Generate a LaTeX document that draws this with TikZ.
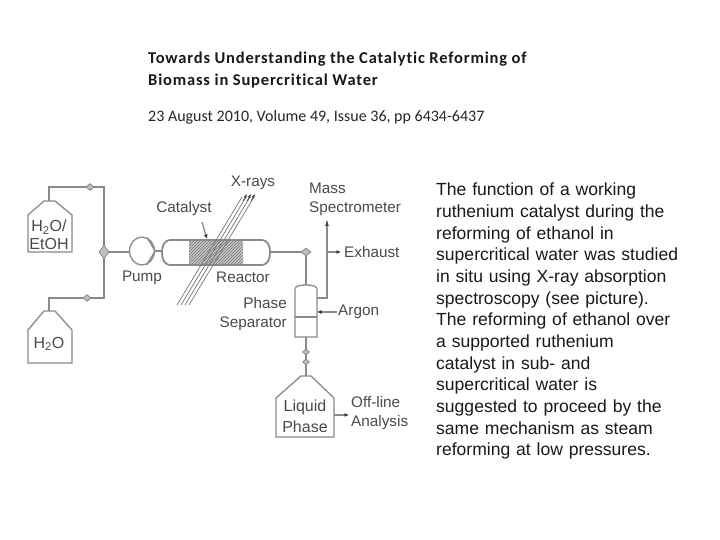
\documentclass[tikz,border=0pt]{standalone}
\usepackage{fontspec}
\setmainfont{Liberation Sans}
\newfontfamily\titlefont{Carlito}
\newfontfamily\titlebf[LetterSpace=5,Ligatures=NoCommon]{Carlito}
\usetikzlibrary{arrows.meta,patterns,shapes.geometric}
\definecolor{lineg}{HTML}{8A8A8A}
\definecolor{textg}{HTML}{4A4A4A}
\tikzset{
  pipe/.style={draw=lineg,line width=1.3pt},
  tip/.style={pipe,-{Latex[length=4.5pt,width=4pt,black!80]}},
  lab/.style={text=textg,font=\fontsize{15.3}{19}\selectfont,inner sep=0pt},
  labl/.style={lab,align=left,anchor=west},
  labr/.style={lab,align=right,anchor=east},
  labc/.style={lab,align=center},
  valve/.style={draw=lineg,fill=black!25,line width=.8pt,diamond,minimum width=8pt,minimum height=7pt,inner sep=0pt},
  title/.style={font=\titlebf\bfseries\fontsize{16.5}{20}\selectfont,text=black!90,anchor=base west,inner sep=0pt},
  subt/.style={font=\titlefont\fontsize{16}{20}\selectfont,text=black!85,anchor=base west,inner sep=0pt},
  body/.style={font=\fontsize{17.55}{21.67}\selectfont,text=black!90,anchor=north west,inner sep=0pt,align=left,text width=270pt}
}
\begin{document}
\begin{tikzpicture}[x=1pt,y=-1pt]
\useasboundingbox (0,0) rectangle (720,540);
\fill[white] (0,0) rectangle (720,540);
% header text
\node[title] (t1) at (148,64) {Towards Understanding the Catalytic Reforming of};
\node[title] (t2) at (148,86) {Biomass in Supercritical Water};
\node[subt] (t3) at (148,122) {23 August 2010, Volume 49, Issue 36, pp 6434-6437};
\node[body] (para) at (436,183) {The function of a working\\ruthenium catalyst during the\\reforming of ethanol in\\supercritical water was studied\\in situ using X-ray absorption\\spectroscopy (see picture).\\The reforming of ethanol over\\a supported ruthenium\\catalyst in sub- and\\supercritical water is\\suggested to proceed by the\\same mechanism as steam\\reforming at low pressures.};
% anchors
\coordinate (b1n) at (49,201);
\coordinate (b2n) at (49,311);
\coordinate (b3n) at (306,376);
\coordinate (c1) at (49,187);
\coordinate (c2) at (104,187);
\coordinate (c3) at (104,298);
\coordinate (c4) at (49,298);
\coordinate (pl) at (130,252);
\coordinate (rr) at (270,252);
\coordinate (st) at (306,285);
\coordinate (sb) at (306,337);
\coordinate (o1) at (317,298);
\coordinate (o2) at (327,298);
\coordinate (ms) at (327,221);
\coordinate (ex0) at (327,252);
\coordinate (ex1) at (341,252);
\coordinate (ar0) at (337,312);
\coordinate (ar1) at (317,312);
\coordinate (of0) at (334,415);
\coordinate (of1) at (349,415);
\coordinate (ca0) at (202,222);
\coordinate (ca1) at (207,239);
% bottles
\draw[pipe] (28,252) -- (28,215) -- (44,201) -- (55,201) -- (72,215) -- (72,252) -- cycle;
\draw[pipe] (28,363) -- (28,330) -- (44,311) -- (55,311) -- (72,330) -- (72,363) -- cycle;
\draw[pipe] (276,437) -- (276,398) -- (301,376) -- (311,376) -- (334,398) -- (334,437) -- cycle;
% pipes
\draw[pipe] (b1n) -- (c1) -- (c2) -- (c3) -- (c4) -- (b2n);
\node[valve] (v1) at (90,187) {};
\node[valve] (v2) at (87,298) {};
\node[valve,minimum width=10pt,minimum height=14pt] (v3) at (104,252) {};
\draw[pipe] (v3) -- (pl);
% pump
\node[draw=lineg,line width=1.3pt,ellipse,minimum width=25pt,minimum height=28pt,inner sep=0pt] (pump) at (142,251) {};
\draw[pipe] (pump.70) -- (pump.east) -- (pump.-70);
\coordinate (pr) at (162,251);
\draw[pipe] (pump.east) -- (pr);
% reactor
\fill[black!22] (189,240) rectangle (243,265);
\fill[pattern=north east lines,pattern color=black!55] (189,240) rectangle (243,265);
\draw[draw=lineg,line width=1.8pt] (171,240) -- (261,240) .. controls (268,240) and (270,246) .. (270,252.5) .. controls (270,259) and (268,265) .. (261,265) -- (171,265) .. controls (164,265) and (162,259) .. (162,252.5) .. controls (162,246) and (164,240) .. (171,240) -- cycle;
% x-ray beam
\foreach \d in {0,4,8,12}
  \draw[lineg!85!black,line width=.7pt] ({177+\d},305) -- ({242+\d},197);
\foreach \d in {0,4,8}
  \draw[-{Latex[length=4pt,width=3pt]},black!75,line width=.6pt] ({243+\d},201) -- ({247+\d},194);
\draw[tip] (ca0) -- (ca1);
% outlet
\node[valve,minimum width=10pt,minimum height=8pt] (v4) at (306,252) {};
\draw[pipe] (rr) -- (v4);
\draw[pipe] (v4) -- (st);
% separator
\draw[pipe] (295,337) -- (295,289) .. controls (295,286) and (300,285) .. (306,285) .. controls (312,285) and (317,286) .. (317,289) -- (317,337) -- cycle;
\draw[pipe] (295,317) -- (317,317);
\draw[pipe] (sb) -- (b3n);
\node[valve,minimum width=7pt,minimum height=6pt] (v5) at (306,352) {};
\node[valve,minimum width=7pt,minimum height=6pt] (v6) at (306,362) {};
\draw[pipe] (o1) -- (o2) -- (ms);
\draw[-{Latex[length=5pt,width=4pt]},black!75,line width=.9pt] (o2 |- ms) ++(0,4) -- (ms);
\draw[tip] (ex0) -- (ex1);
\draw[tip] (ar0) -- (ar1);
\draw[tip] (of0) -- (of1);
% labels
\node[labc,font=\fontsize{16}{18}\selectfont] (l1) at (49,235) {H\textsubscript{2}O/\\EtOH};
\node[labc,font=\fontsize{16}{18}\selectfont] (l2) at (49,344) {H\textsubscript{2}O};
\node[labc] (lp) at (142,278) {Pump};
\node[labc] (lc) at (184,209) {Catalyst};
\node[labc] (lx) at (253,183) {X-rays};
\node[labl] (lm) at (309,199.5) {Mass\\Spectrometer};
\node[labl] (le) at (344,252) {Exhaust};
\node[labl] (la) at (338,312) {Argon};
\node[labc] (lr) at (243,277) {Reactor};
\node[labr] (ls) at (287,314) {Phase\\Separator};
\node[labc,font=\fontsize{16}{21}\selectfont] (ll) at (305,416) {Liquid\\Phase};
\node[labl] (lo) at (351,413.5) {Off-line\\Analysis};
\end{tikzpicture}
\end{document}
